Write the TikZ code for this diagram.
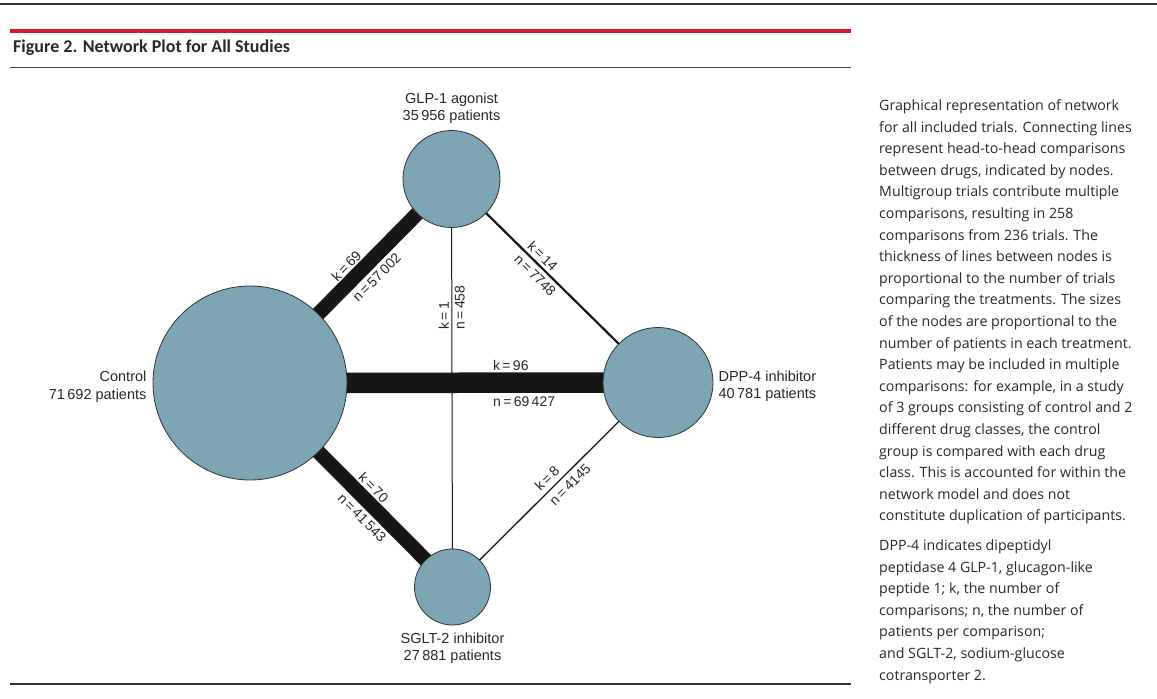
\documentclass[tikz,border=0pt]{standalone}
\usepackage{fontspec}
\setmainfont{Liberation Sans}
\newfontfamily\capfont{Open Sans}
\newfontfamily\titlefont{Carlito}
\usetikzlibrary{backgrounds,positioning}
\definecolor{nodefill}{RGB}{126,165,180}
\definecolor{nodeline}{RGB}{40,52,58}
\definecolor{txt}{RGB}{40,40,40}
\definecolor{edgecol}{RGB}{22,22,22}
\definecolor{rulered}{RGB}{214,24,48}
\begin{document}
\begin{tikzpicture}[x=1pt,y=-1pt,
  drug/.style={circle, draw=nodeline, line width=0.8pt, fill=nodefill, inner sep=0pt},
  drugname/.style={font=\fontsize{14.5}{17.5}\selectfont, text=txt, inner sep=0pt},
  link/.style={draw=edgecol, line cap=butt},
  elab/.style={sloped, inner xsep=0pt, outer sep=0pt, font=\fontsize{14}{16}\selectfont, text=txt},
  klab/.style={elab, anchor=south west},
  nlab/.style={elab, anchor=north west}]
\useasboundingbox (0,0) rectangle (1157,699);

% page rules
\draw[line width=2pt, color=black!78] (0,4) -- (1157,4);
\draw[line width=3.5pt, color=rulered] (10,31) -- (851,31);
\draw[line width=1pt, color=black!72] (10,67) -- (851,67);
\draw[line width=1.2pt, color=black!80] (10,684) -- (851,684);

\node[anchor=base west, inner sep=0pt, text=txt,
      font=\titlefont\bfseries\fontsize{18}{20}\selectfont] (title) at (13,52.5)
  {Figure 2. Network Plot for All Studies};

% treatments (radius proportional to patients)
\node[drug, minimum size=194pt] (ctrl) at (250,383) {};
\node[drug, minimum size=97pt]  (glp)  at (451.5,179) {};
\node[drug, minimum size=110pt] (dpp)  at (658,382.5) {};
\node[drug, minimum size=76pt]  (sglt) at (452.5,587) {};

% comparisons (width proportional to number of trials)
\begin{scope}[on background layer]
\draw[link, line width=14.5pt] (ctrl.center) --
  node[klab, pos=0.465, inner ysep=8.5pt] {k\,=\,69}
  node[nlab, pos=0.465, inner ysep=11pt] {n\,=\,57\,002} (glp.center);
\draw[link, line width=20.5pt] (ctrl.center) --
  node[klab, pos=0.596, inner ysep=12.5pt] {k\,=\,96}
  node[nlab, pos=0.596, inner ysep=14pt] {n\,=\,69\,427} (dpp.center);
\draw[link, line width=14.5pt] (ctrl.center) --
  node[klab, pos=0.5, inner ysep=9pt] {k\,=\,70}
  node[nlab, pos=0.5, inner ysep=10.5pt] {n\,=\,41\,543} (sglt.center);
\draw[link, line width=1pt] (sglt.center) --
  node[klab, allow upside down, pos=0.631, inner ysep=3pt] {k\,=\,1}
  node[nlab, allow upside down, pos=0.631, inner ysep=3pt] {n\,=\,458} (glp.center);
\draw[link, line width=2.2pt] (glp.center) --
  node[klab, pos=0.35, inner ysep=4pt] {k\,=\,14}
  node[nlab, pos=0.35, inner ysep=5pt] {n\,=\,7748} (dpp.center);
\draw[link, line width=1.3pt] (sglt.center) --
  node[klab, pos=0.447, inner ysep=5pt] {k\,=\,8}
  node[nlab, pos=0.447, inner ysep=5.5pt] {n\,=\,4145} (dpp.center);
\end{scope}

% treatment names
\node[drugname, align=center, above=6pt of glp] (glplab) {GLP-1 agonist\\35\,956 patients};
\node[drugname, align=right, left=6pt of ctrl, yshift=-3.5pt] (ctrllab) {Control\\71\,692 patients};
\node[drugname, align=left, right=5pt of dpp, yshift=-3.5pt] (dpplab) {DPP-4 inhibitor\\40\,781 patients};
\node[drugname, align=center, below=7pt of sglt] (sgltlab) {SGLT-2 inhibitor\\27\,881 patients};

% legend
\node[anchor=north west, inner sep=0pt, align=left, text=txt,
      font=\capfont\fontsize{14.2}{21.6}\selectfont] (legend) at (879,99.5)
{Graphical representation of network\\
for all included trials. Connecting lines\\
represent head-to-head comparisons\\
between drugs, indicated by nodes.\\
Multigroup trials contribute multiple\\
comparisons, resulting in 258\\
comparisons from 236 trials. The\\
thickness of lines between nodes is\\
proportional to the number of trials\\
comparing the treatments. The sizes\\
of the nodes are proportional to the\\
number of patients in each treatment.\\
Patients may be included in multiple\\
comparisons: for example, in a study\\
of 3 groups consisting of control and 2\\
different drug classes, the control\\
group is compared with each drug\\
class. This is accounted for within the\\
network model and does not\\
constitute duplication of participants.\\[8pt]
DPP-4 indicates dipeptidyl\\
peptidase 4 GLP-1, glucagon-like\\
peptide 1; k, the number of\\
comparisons; n, the number of\\
patients per comparison;\\
and SGLT-2, sodium-glucose\\
cotransporter 2.};
\end{tikzpicture}
\end{document}
